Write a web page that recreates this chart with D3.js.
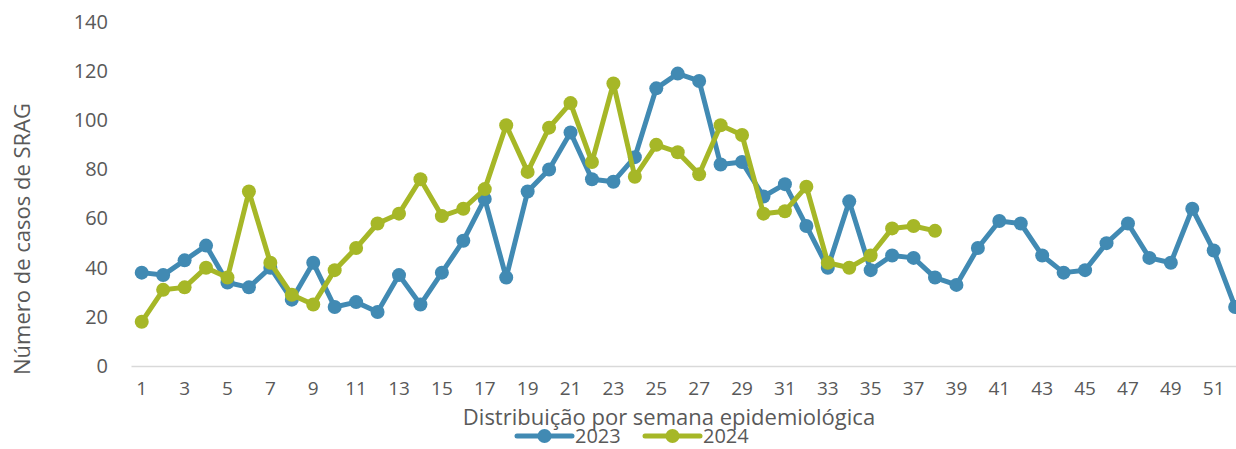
<!DOCTYPE html>
<html>
<head>
<meta charset="utf-8">
<script src="https://cdn.jsdelivr.net/npm/d3@7"></script>
<style>
  body { margin: 0; background: #fff; }
  svg text { font-family: 'Open Sans', sans-serif; fill: #595959; }
  .axis path { stroke: #d9d9d9; stroke-width: 1.5; }
</style>
</head>
<body>
<div id="chart"></div>
<script>
const weeks = d3.range(1, 53)
const cases2023 = [38, 37, 43, 49, 34, 32, 40, 27, 42, 24, 26, 22, 37, 25, 38, 51, 68, 36, 71, 80,
                   95, 76, 75, 85, 113, 119, 116, 82, 83, 69, 74, 57, 40, 67, 39, 45, 44, 36, 33, 48,
                   59, 58, 45, 38, 39, 50, 58, 44, 42, 64, 47, 24]
const cases2024 = [18, 31, 32, 40, 36, 71, 42, 29, 25, 39, 48, 58, 62, 76, 61, 64, 72, 98, 79, 97,
                   107, 83, 115, 77, 90, 87, 78, 98, 94, 62, 63, 73, 42, 40, 45, 56, 57, 55]
const yTicks = [0, 20, 40, 60, 80, 100, 120, 140]

const series = [
  { name: '2023', color: '#418ab3', values: cases2023 },
  { name: '2024', color: '#a6b727', values: cases2024 }
]

const W = 1236, H = 449
const margin = { top: 22, left: 131, bottom: 83 }
const step = 21.44

const svg = d3.select('#chart').append('svg')
  .attr('width', W)
  .attr('height', H)

const x = d3.scaleBand()
  .domain(weeks)
  .range([margin.left, margin.left + step * weeks.length])

const y = d3.scaleLinear()
  .domain([0, 140])
  .range([H - margin.bottom, margin.top])

const cx = d => x(d) + x.bandwidth() / 2

// y axis labels (no line, no grid)
const yAxis = svg.append('g')
  .attr('transform', 'translate(' + (margin.left - 10) + ',0)')
  .attr('font-size', 20)
  .call(d3.axisLeft(y).tickValues(yTicks).tickSize(0).tickPadding(13))
yAxis.select('.domain').remove()
yAxis.selectAll('text').attr('font-size', 20).attr('fill', '#595959')

// x axis
const xAxis = svg.append('g').classed('axis', true)
  .attr('transform', 'translate(0,' + y(0) + ')')
  .call(d3.axisBottom(x).tickValues(weeks.filter(d => d % 2 === 1)).tickSize(0).tickPadding(23).tickSizeOuter(0))
xAxis.selectAll('text').attr('font-size', 19).attr('fill', '#595959')
  .attr('dy', '0.3em')

// titles
svg.append('text')
  .attr('transform', 'translate(30,239) rotate(-90)')
  .attr('text-anchor', 'middle')
  .attr('font-size', 22)
  .text('Número de casos de SRAG')

svg.append('text')
  .attr('x', 669)
  .attr('y', 425)
  .attr('text-anchor', 'middle')
  .attr('font-size', 22)
  .text('Distribuição por semana epidemiológica')

// lines + markers
const line = d3.line()
  .x((d, i) => cx(weeks[i]))
  .y(d => y(d))

series.forEach(s => {
  svg.append('path')
    .datum(s.values)
    .attr('fill', 'none')
    .attr('stroke', s.color)
    .attr('stroke-width', 5)
    .attr('stroke-linejoin', 'round')
    .attr('d', line)
  svg.append('g').selectAll('circle')
    .data(s.values).enter()
    .append('circle')
    .attr('cx', (d, i) => cx(weeks[i]))
    .attr('cy', d => y(d))
    .attr('r', 7)
    .attr('fill', s.color)
})

// legend
const legend = svg.append('g').attr('transform', 'translate(517,436)')
series.forEach((s, i) => {
  const g = legend.append('g').attr('transform', 'translate(' + (i * 128) + ',0)')
  g.append('line')
    .attr('x1', 0).attr('x2', 55)
    .attr('stroke', s.color).attr('stroke-width', 5).attr('stroke-linecap', 'round')
  g.append('circle').attr('cx', 27.5).attr('r', 7).attr('fill', s.color)
  g.append('text')
    .attr('x', 58).attr('y', 7)
    .attr('font-size', 20)
    .text(s.name)
})
</script>
</body>
</html>
